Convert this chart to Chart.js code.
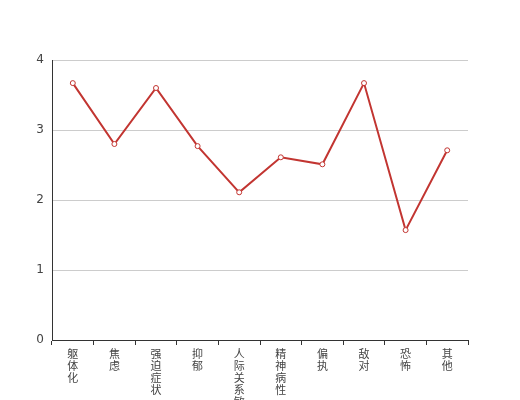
<!DOCTYPE html>
<html><head><meta charset="utf-8">
<script src="https://cdn.jsdelivr.net/npm/chart.js@4"></script>
<style>html,body{margin:0;padding:0;background:#fff}#wrap{width:520px;height:400px}</style>
</head><body><div id="wrap"><canvas id="c" width="520" height="400"></canvas></div>
<script>
const categories = ["躯体化","焦虑","强迫症状","抑郁","人际关系敏感","精神病性","偏执","敌对","恐怖","其他"];
const values = [3.67, 2.80, 3.60, 2.77, 2.11, 2.61, 2.51, 3.67, 1.57, 2.71];
const yTicks = [0, 1, 2, 3, 4];

const font = { family: "'Noto Sans CJK SC',sans-serif", size: 11, lineHeight: '12px' };
new Chart(document.getElementById('c'), {
  type: 'line',
  data: {
    labels: categories.map(s => s.split('')),
    datasets: [{
      data: values,
      borderColor: '#c23531',
      borderWidth: 2,
      backgroundColor: '#fff',
      pointBackgroundColor: '#fff',
      pointBorderColor: '#c23531',
      pointBorderWidth: 1,
      pointRadius: 2.5,
      tension: 0,
      fill: false
    }]
  },
  options: {
    responsive: false,
    animation: false,
    layout: { padding: { top: 60, right: 52, left: 0, bottom: 0 } },
    plugins: { legend: { display: false }, tooltip: { enabled: false } },
    scales: {
      x: {
        type: 'category',
        offset: true,
        afterFit: s => { s.height = 60; },
        grid: { display: true, offset: true, drawOnChartArea: false, drawTicks: true, tickLength: 5, color: '#333' },
        border: { display: true, color: '#333', width: 1 },
        ticks: { color: '#444', font: font, padding: 3, maxRotation: 0, minRotation: 0, autoSkip: false }
      },
      y: {
        min: 0, max: 4,
        afterFit: s => { s.width = 52; },
        afterBuildTicks: s => { s.ticks = yTicks.map(v => ({ value: v })); },
        grid: { color: '#ccc', drawTicks: false },
        border: { display: true, color: '#333', width: 1 },
        ticks: { color: '#444', font: { family: "'DejaVu Sans',sans-serif", size: 12 }, padding: 8 }
      }
    }
  }
});
</script></body></html>
